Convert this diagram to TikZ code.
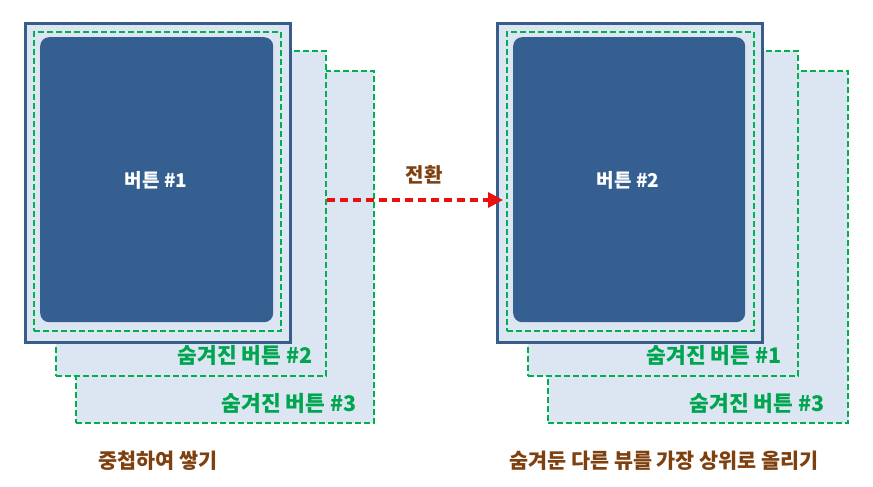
\documentclass[tikz,border=0pt]{standalone}
\usepackage{fontspec}
\setmainfont{Noto Sans CJK KR}
\usetikzlibrary{arrows.meta}
\definecolor{cardfill}{HTML}{DCE6F2}
\definecolor{navy}{HTML}{385D8A}
\definecolor{btnblue}{HTML}{365F91}
\definecolor{grn}{HTML}{00B050}
\definecolor{grntext}{HTML}{00A550}
\definecolor{brn}{HTML}{7F4010}
\definecolor{arrred}{HTML}{E81010}
\tikzset{
  hidden/.style={draw=grn, fill=cardfill, line width=2pt, dash pattern=on 6pt off 3pt, anchor=north west, inner sep=0pt},
  front/.style={draw=navy, fill=cardfill, line width=2.8pt, anchor=north west, inner sep=0pt},
  inner/.style={draw=grn, line width=2pt, dash pattern=on 6pt off 3pt, anchor=north west, inner sep=0pt},
  btn/.style={fill=btnblue, rounded corners=9pt, anchor=north west, inner sep=0pt},
  btntext/.style={text=white, font=\fontsize{19}{22}\selectfont\bfseries},
  hidtext/.style={text=grntext, font=\fontsize{21.5}{24}\selectfont\bfseries, anchor=east},
  captext/.style={text=brn, font=\fontsize{20.7}{24}\selectfont\bfseries},
  trans/.style={draw=arrred, line width=3.3pt, dash pattern=on 8pt off 5pt, -{Triangle[length=15pt,width=15pt]}}
}
\begin{document}
\begin{tikzpicture}[x=1pt,y=-1pt]
\useasboundingbox (0,0) rectangle (873,487);
% left stack
\node[hidden, minimum width=298pt, minimum height=352pt] (L3) at (75,70) {};
\node[hidden, minimum width=270pt, minimum height=325pt] (L2) at (55,50) {};
\node[front, minimum width=265pt, minimum height=319pt] (L1) at (24,22) {};
\node[inner, minimum width=247pt, minimum height=299pt] (L1i) at (33,31) {};
\node[btn, minimum width=233pt, minimum height=285pt] (L1b) at (40,37) {};
\node[btntext] (L1t) at (156,180) {버튼 \#1};
\node[hidtext] (L2t) at (316,355) {숨겨진 버튼 \#2};
\node[hidtext] (L3t) at (360,403) {숨겨진 버튼 \#3};
% right stack
\node[hidden, minimum width=300pt, minimum height=352pt] (R3) at (547,70) {};
\node[hidden, minimum width=270pt, minimum height=325pt] (R2) at (527,50) {};
\node[front, minimum width=265pt, minimum height=319pt] (R1) at (496,22) {};
\node[inner, minimum width=247pt, minimum height=299pt] (R1i) at (506,31) {};
\node[btn, minimum width=232pt, minimum height=285pt] (R1b) at (513,37) {};
\node[btntext] (R1t) at (628,180) {버튼 \#2};
\node[hidtext] (R2t) at (785,355) {숨겨진 버튼 \#1};
\node[hidtext] (R3t) at (828,403) {숨겨진 버튼 \#3};
% transition arrow
\coordinate (aS) at (L2.east |- 0,200);
\coordinate (aE) at (503,200);
\draw[trans] (aS) -- (aE);
\node[captext, font=\fontsize{20}{23}\selectfont\bfseries] (tr) at (424,175) {전환};
% captions
\node[captext] (capL) at (158,461) {중첩하여 쌓기};
\node[captext] (capR) at (664,461) {숨겨둔 다른 뷰를 가장 상위로 올리기};
\end{tikzpicture}
\end{document}
